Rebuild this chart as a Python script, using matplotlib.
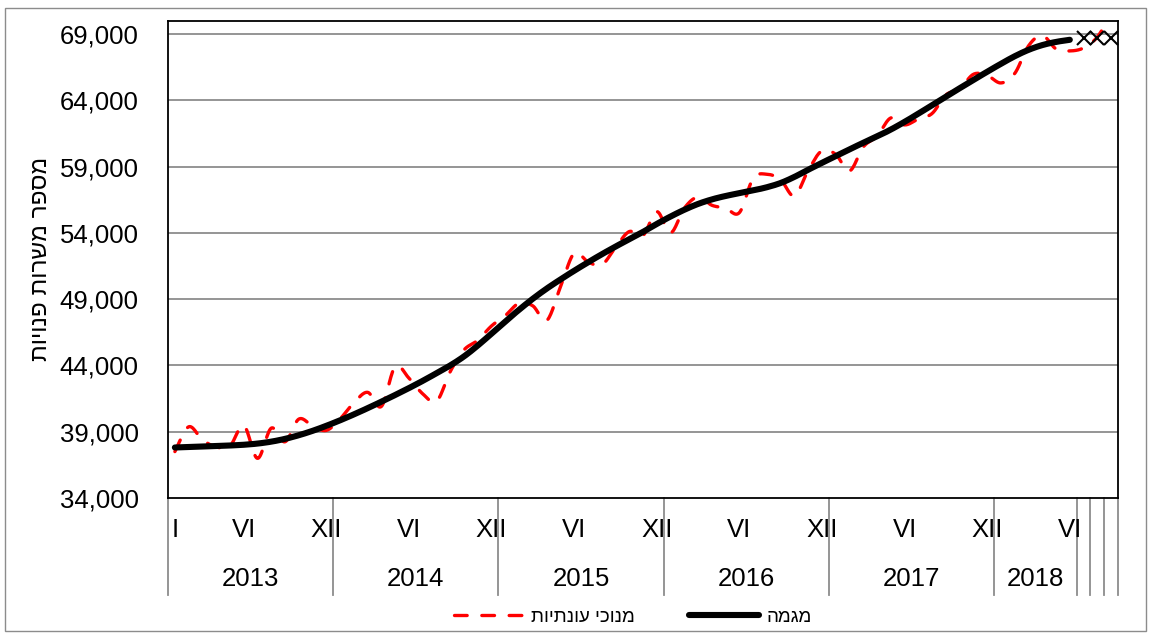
import numpy as np
import matplotlib
matplotlib.use('Agg')
import matplotlib.pyplot as plt
from matplotlib.patches import Rectangle
from matplotlib.transforms import blended_transform_factory

plt.rcParams['font.family'] = ['Liberation Sans', 'DejaVu Sans']

# ---------------- data ----------------
year_labels = ['2013', '2014', '2015', '2016', '2017', '2018', '', '', '']
group_sizes = [12, 12, 12, 12, 12, 6, 1, 1, 1]
month_names = ['I', 'II', 'III', 'IV', 'V', 'VI', 'VII', 'VIII', 'IX', 'X', 'XI', 'XII']

trend = [37810, 37850, 37885, 37920, 37960, 38015, 38105, 38250, 38460, 38735, 39065, 39445,
         39860, 40305, 40775, 41265, 41770, 42290, 42835, 43410, 44000, 44680, 45500, 46400,
         47320, 48200, 49030, 49790, 50480, 51140, 51770, 52380, 52960, 53520, 54070, 54670,
         55230, 55740, 56180, 56520, 56780, 56990, 57200, 57440, 57760, 58220, 58760, 59280,
         59790, 60300, 60790, 61270, 61790, 62370, 62990, 63630, 64270, 64905, 65530, 66150,
         66750, 67320, 67800, 68160, 68400, 68560]

seas_adj = [37500, 39370, 38390, 37850, 37920, 39480, 36990, 39270, 38240, 39950, 39440, 39100,
            39970, 41180, 41970, 40910, 43915, 43040, 41860, 41275, 43540, 45170, 45900, 46980,
            47760, 48695, 48490, 47380, 49900, 52465, 51810, 51580, 52890, 54095, 53800, 55600,
            54000, 55860, 56700, 56080, 55860, 55525, 58100, 58420, 58000, 56780, 58720, 60200,
            59915, 58670, 60480, 61300, 62665, 62140, 62590, 63005, 64400, 64855, 65960, 65870,
            65305, 66020, 68100, 68890, 67870, 67720, 67945, 68775, 70500]

provisional_idx = [66, 67, 68]
provisional = [68700, 68700, 68700]

y_ticks = [34000, 39000, 44000, 49000, 54000, 59000, 64000, 69000]

ylabel_text = 'מספר משרות פנויות'
legend_sa = 'מנוכי עונתיות'
legend_trend = 'מגמה'


def vis(s):
    # matplotlib has no bidi support: reverse Hebrew for visual order
    return s[::-1]


def smooth(x, y, n=16):
    """Excel-like smoothed line (Catmull-Rom Bezier)."""
    x = np.asarray(x, float)
    y = np.asarray(y, float)
    px = np.concatenate([[x[0]], x, [x[-1]]])
    py = np.concatenate([[y[0]], y, [y[-1]]])
    t = np.linspace(0, 1, n, endpoint=False)[:, None]
    xs, ys = [], []
    for i in range(1, len(px) - 2):
        p0 = np.array([px[i - 1], py[i - 1]])
        p1 = np.array([px[i], py[i]])
        p2 = np.array([px[i + 1], py[i + 1]])
        p3 = np.array([px[i + 2], py[i + 2]])
        c1 = p1 + (p2 - p0) / 6.0
        c2 = p2 - (p3 - p1) / 6.0
        b = ((1 - t) ** 3) * p1 + 3 * ((1 - t) ** 2) * t * c1 + 3 * (1 - t) * t ** 2 * c2 + t ** 3 * p2
        xs.append(b[:, 0])
        ys.append(b[:, 1])
    xs.append([x[-1]])
    ys.append([y[-1]])
    return np.concatenate(xs), np.concatenate(ys)


# ---------------- figure ----------------
W, H = 1151, 634
fig = plt.figure(figsize=(W / 100, H / 100), dpi=100)
fig.patch.set_facecolor('white')
fig.patches.append(Rectangle((5 / W, 3 / H), (1146 - 5) / W, (626 - 3) / H,
                             transform=fig.transFigure, fill=False,
                             edgecolor='#8c8c8c', linewidth=1.0))

ax_left, ax_right, ax_top, ax_bottom = 168, 1118, 20.7, 498
ax = fig.add_axes([ax_left / W, 1 - ax_bottom / H, (ax_right - ax_left) / W, (ax_bottom - ax_top) / H])

n_cat = sum(group_sizes)
xs = np.arange(n_cat)

grid_col = '#8c8c8c'
for yt in y_ticks[1:]:
    ax.axhline(yt, color=grid_col, linewidth=1.3, zorder=1)

sx, sy = smooth(xs[:len(seas_adj)], seas_adj)
ax.plot(sx, sy, color='#ff0000', linewidth=2.4, dashes=(3.8, 4.4),
        dash_capstyle='round', zorder=3, label=vis(legend_sa))
tx, ty = smooth(xs[:len(trend)], trend)
ax.plot(tx, ty, color='black', linewidth=4.4, solid_capstyle='round',
        zorder=4, label=vis(legend_trend))
ax.plot(provisional_idx, provisional, linestyle='none', marker='x', markersize=10.5,
        markeredgewidth=1.5, color='black', zorder=5, clip_on=False)

ax.set_xlim(-0.5, n_cat - 0.5)
ax.set_ylim(34000, 70000)
ax.set_yticks(y_ticks)
ax.set_yticklabels([f'{v:,}' for v in y_ticks])
ax.tick_params(axis='y', length=0, pad=21, labelsize=18.5)
ax.set_xticks([])
for sp in ax.spines.values():
    sp.set_color('black')
    sp.set_linewidth(1.3)

# ---------------- category axis (two levels) ----------------
trans = blended_transform_factory(ax.transData, ax.transAxes)
month_y = -0.067
year_y = -0.170
sep_bottom = -0.203

for i in range(n_cat):
    m = i % 12
    if i == 0 or (m in (5, 11) and i < 66):
        ax.text(i, month_y, month_names[m], transform=trans, ha='center', va='center',
                fontsize=18.5, color='black')

bounds = np.concatenate([[0], np.cumsum(group_sizes)])
for b in bounds:
    ax.plot([b - 0.5, b - 0.5], [0, sep_bottom], transform=trans, color=grid_col,
            linewidth=1.3, clip_on=False, zorder=0)
for k, lab in enumerate(year_labels):
    if lab:
        c = (bounds[k] + bounds[k + 1] - 1) / 2.0
        ax.text(c, year_y, lab, transform=trans, ha='center', va='center',
                fontsize=18.5, color='black')

# y-axis title
fig.text(41 / W, 1 - 259 / H, vis(ylabel_text), rotation=90, ha='center', va='center',
         fontsize=17.5)

# legend
handles, labels = ax.get_legend_handles_labels()
fig.legend(handles, labels, loc='center', bbox_to_anchor=(633 / W, 1 - 617 / H), ncol=2,
           frameon=False, fontsize=13.5, handlelength=3.7, handletextpad=0.4,
           columnspacing=2.9)

fig.savefig('out.png', dpi=100, facecolor='white')
